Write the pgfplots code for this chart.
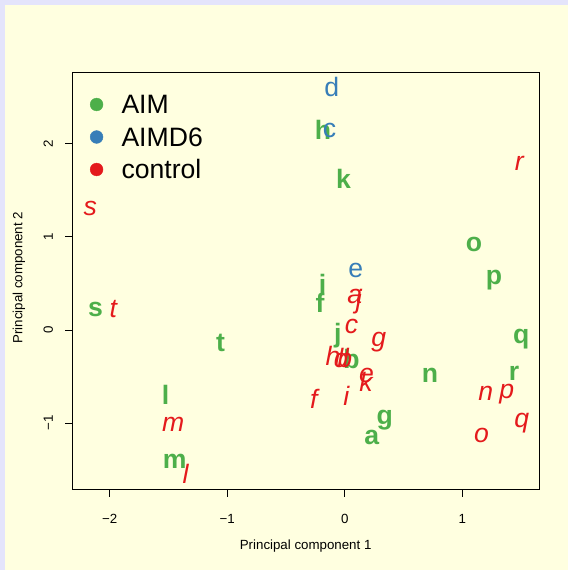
\documentclass[border=0pt]{standalone}
\usepackage{fontspec}
\setmainfont{Liberation Sans}
\usepackage{pgfplots}
\pgfplotsset{compat=1.18}
\usetikzlibrary{calc}
\definecolor{aim}{HTML}{4DAF4A}
\definecolor{aimd}{HTML}{377EB8}
\definecolor{ctrl}{HTML}{E41A1C}
\definecolor{panel}{HTML}{FFFFE0}
\definecolor{frameblue}{HTML}{E4E4FB}
\begin{document}
\begin{tikzpicture}[x=1pt,y=1pt]
\fill[frameblue] (0,0) rectangle (568,570);
\fill[panel] (5,0) rectangle (568,565);
\path[use as bounding box] (0,0) rectangle (568,570);
\begin{axis}[
  at={(72.3pt,80.5pt)}, anchor=south west,
  scale only axis, width=466.7pt, height=417.5pt,
  xmin=-2.318, xmax=1.652, ymin=-1.713, ymax=2.771,
  axis line style={black, line width=0.8pt},
  tick align=outside, major tick length=7pt,
  tick style={black, line width=0.8pt},
  xtick={-2,-1,0,1}, xticklabels={−2,−1,0,1},
  ytick={-1,0,1,2}, yticklabels={−1,0,1,2},
  xtick pos=bottom, ytick pos=left,
  xticklabel style={font=\fontsize{13.3}{16}\selectfont, anchor=center, yshift=-22pt},
  yticklabel style={font=\fontsize{13.3}{16}\selectfont, xshift=-17pt, rotate=90, anchor=center},
  xlabel={Principal component 1},
  ylabel={Principal component 2},
  xlabel style={font=\fontsize{13.3}{16}\selectfont, at={($(rel axis cs:0.5,0)+(0,-60pt)$)}, anchor=base},
  ylabel style={font=\fontsize{13.3}{16}\selectfont, at={($(rel axis cs:0,0.5)+(-49.8pt,3pt)$)}, anchor=base, rotate=0},
  legend style={at={(rel axis cs:0,1)}, anchor=north west, xshift=17.7pt, yshift=-23pt,
    draw=none, fill=none, inner sep=0pt, outer sep=0pt, row sep=13.5pt, column sep=18.3pt,
    font=\fontsize{26.6}{30}\selectfont,
    nodes={inner sep=0pt, text height=19pt, text depth=0pt}},
  legend cell align=left,
  legend image code/.code={\fill (0pt,0pt) circle (6.4pt);},
  nodes near coords align={center},
]
\addplot[forget plot, only marks, mark=none, nodes near coords, point meta=explicit symbolic,
  every node near coord/.append style={text=aim, inner sep=0pt, text height=14pt, text depth=0pt,
    font=\fontsize{26.6}{30}\selectfont\bfseries}]
  table[meta=label] {
x y label
0.23 -1.15 a
0.057 -0.34 b
-0.21 0.26 f
0.34 -0.94 g
-0.185 2.12 h
-0.19 0.47 i
-0.06 -0.06 j
-0.01 1.59 k
-1.525 -0.73 l
-1.448 -1.41 m
0.724 -0.49 n
1.099 0.92 o
1.27 0.56 p
1.50 -0.065 q
1.44 -0.465 r
-2.12 0.22 s
-1.056 -0.16 t
};
\addplot[forget plot, only marks, mark=none, nodes near coords, point meta=explicit symbolic,
  every node near coord/.append style={text=aimd, inner sep=0pt, text height=14pt, text depth=0pt,
    font=\fontsize{26.6}{30}\selectfont}]
  table[meta=label] {
x y label
-0.13 2.148 c
-0.11 2.58 d
0.094 0.64 e
};
\addplot[forget plot, only marks, mark=none, nodes near coords, point meta=explicit symbolic,
  every node near coord/.append style={text=ctrl, inner sep=0pt, text height=14pt, text depth=0pt,
    font=\fontsize{26.6}{30}\selectfont\itshape}]
  table[meta=label] {
x y label
0.085 0.36 a
0.00 -0.33 b
0.057 0.04 c
-0.03 -0.33 d
0.185 -0.49 e
-0.264 -0.77 f
0.29 -0.10 g
-0.10 -0.31 h
0.014 -0.74 i
0.12 0.31 j
0.18 -0.58 k
-1.354 -1.57 l
-1.46 -1.01 m
1.20 -0.68 n
1.164 -1.13 o
1.377 -0.66 p
1.505 -0.97 q
1.485 1.79 r
-2.166 1.30 s
-1.97 0.21 t
};
\addlegendimage{color=aim}
\addlegendentry{AIM}
\addlegendimage{color=aimd}
\addlegendentry{AIMD6}
\addlegendimage{color=ctrl}
\addlegendentry{control}
\end{axis}
\end{tikzpicture}
\end{document}
